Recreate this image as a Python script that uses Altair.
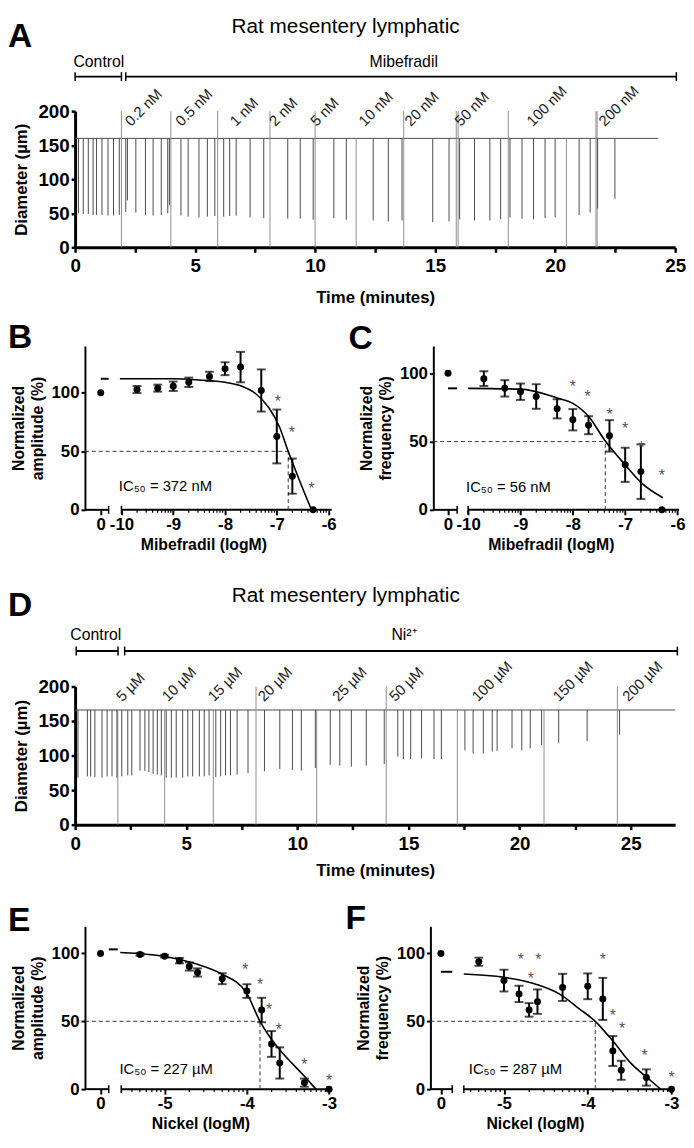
import altair as alt
import numpy as np
import pandas as pd

FONT = "Liberation Sans"
TRACE_COLOR = "#4a4a4a"
MARKER_COLOR = "#8c8c8c"

# ======================= DATA =======================
# ---- Panel A : diameter trace, mibefradil ----
a_title = "Rat mesentery lymphatic"
a_spike_time = [0.14, 0.34, 0.55, 0.75, 0.89, 1.12, 1.37, 1.60, 1.84,
                2.11, 2.18, 2.53, 2.93, 3.25, 3.59, 3.86, 3.93,
                4.41, 4.71, 5.16, 5.51, 5.82,
                6.19, 6.44, 6.71, 7.29, 7.86,
                8.86, 9.38, 9.92,
                10.78, 11.30,
                12.42, 13.05, 13.62,
                14.90, 15.58, 16.02, 16.64, 17.28, 17.73,
                18.12, 18.62, 19.10, 19.58, 20.00, 21.00, 21.46, 21.77, 22.49]
a_spike_min = [50, 49, 49, 47.6, 47.6, 47.6, 46.7, 46.7, 47.6,
               52, 69, 51, 47.6, 46.7, 47.6, 50, 62,
               46.7, 45, 44, 45, 46,
               45, 46, 46.7, 44, 43,
               42, 42, 40.5,
               43, 40.5,
               39.5, 38, 39.5,
               37, 38, 41, 39.5, 39.5, 41,
               44, 42, 41, 43, 44, 47.6, 51, 57, 71.4]
a_baseline = 160
a_trace_end = 24.3
a_marker_full = [1.93, 3.99, 5.94, 8.12, 10.0, 13.69, 15.88, 15.96, 18.05, 21.70, 21.75]
a_marker_low = [11.71, 20.47]
a_conc_labels = ["0.2 nM", "0.5 nM", "1 nM", "2 nM", "5 nM", "10 nM", "20 nM",
                 "50 nM", "100 nM", "200 nM"]
a_conc_start = [2.33, 4.43, 6.70, 8.34, 10.06, 12.07, 13.98, 16.07, 19.07, 22.07]
a_control_span = [0.0, 1.93]
a_drug_span = [2.11, 25.05]
a_drug = "Mibefradil"

# ---- Panel D : diameter trace, Ni2+ ----
d_spike_time = [0.13, 0.55, 0.70, 0.89, 1.21, 1.44, 1.66, 1.88, 2.10, 2.37,
                2.55, 2.92, 3.14, 3.32, 3.51, 3.70, 3.88, 4.10, 4.33, 4.55,
                4.84, 5.07, 5.29, 5.59, 5.81, 6.03, 6.33, 6.55, 6.77, 6.99,
                7.29, 7.78, 8.52, 9.21, 9.78, 10.18, 10.81, 11.48, 11.91, 12.43,
                13.10, 13.91, 14.52, 14.77, 15.10, 15.59, 16.15, 16.48, 17.54, 17.91,
                18.37, 18.77, 18.99, 19.66, 20.10, 20.48, 20.99, 21.76, 23.04, 24.50]
d_spike_min = [68, 69.9, 69.9, 69, 68, 69.9, 69.9, 68, 69.9, 71.3,
               71.3, 78.3, 77.4, 76, 73.6, 72.6, 71.3, 68, 68, 68,
               68, 69.9, 69.9, 69.9, 69.9, 71.3, 69, 69.9, 71.3, 71.3,
               72.6, 74.5, 77.4, 80.7, 79.3, 78.3, 82.1, 86.8, 85.4, 84,
               85.4, 87.8, 98.6, 95, 95, 95.9, 95, 95, 107.6, 103,
               103, 105.9, 106.8, 110.5, 107.6, 110.5, 115.2, 118.5, 121, 130.3]
d_baseline = 166
d_trace_end = 27.0
d_marker_full = [8.14, 14.0, 24.4]
d_marker_low = [1.92, 4.03, 6.22, 10.87, 17.2, 21.1]
d_conc_labels = ["5 µM", "10 µM", "15 µM", "20 µM", "25 µM", "50 µM", "100 µM",
                 "150 µM", "200 µM"]
d_conc_start = [2.12, 4.18, 6.25, 8.50, 11.85, 14.40, 18.13, 21.77, 24.90]
d_control_span = [0.05, 1.93]
d_drug_span = [2.23, 27.1]
d_drug = "Ni²⁺"

# ---- Panel B : normalized amplitude, mibefradil ----
b_logm = [-9.70, -9.30, -9.00, -8.70, -8.30, -8.00, -7.70, -7.30, -7.00, -6.70, -6.30]
b_mean = [102.8, 104.0, 105.6, 109.0, 114.0, 120.6, 122.0, 102.0, 62.7, 28.8, 0.0]
b_sem = [3, 3, 4, 4, 4, 5.5, 13, 18, 23, 15, 0]
b_control = 100
b_fit_top = 112
b_fit_logm = [-10.03, -9.0, -8.5, -8.0, -7.7, -7.4, -7.15, -6.95, -6.78, -6.57, -6.33]
b_fit_val = [112, 112, 111, 109, 106, 99, 87, 71, 50, 26, 0]
b_star_logm = [-6.98, -6.71, -6.33]
b_star_val = [96.6, 69.8, 21.7]
b_ic50_logm = -6.78
b_ic50_label = "IC₅₀ = 372 nM"

# ---- Panel C : normalized frequency, mibefradil ----
c_logm = [-9.70, -9.30, -9.00, -8.70, -8.30, -8.00, -7.70, -7.30, -7.00, -6.70, -6.30]
c_mean = [96.1, 89.0, 86.5, 83.0, 74.0, 66.0, 62.0, 54.2, 33.0, 28.0, 0.0]
c_sem = [5.4, 6, 6, 9, 7, 7.8, 6.6, 11.5, 12.5, 20, 0]
c_control = 100
c_fit_top = 89
c_fit_logm = [-10.0, -9.0, -8.3, -8.0, -7.69, -7.38, -7.0, -6.69, -6.28]
c_fit_val = [89, 88.4, 82, 78, 68, 50.4, 33, 19.8, 8.9]
c_star_logm = [-8.0, -7.72, -7.30, -7.0, -6.69, -6.30]
c_star_val = [93.3, 86.5, 72.8, 63, 48.7, 28.2]
c_ic50_logm = -7.38
c_ic50_label = "IC₅₀ = 56 nM"

# ---- Panel E : normalized amplitude, nickel ----
e_logm = [-5.30, -5.00, -4.82, -4.70, -4.60, -4.30, -4.00, -3.82, -3.70, -3.60, -3.30, -3.00]
e_mean = [99.3, 98.0, 94.7, 90.4, 86.0, 81.4, 72.3, 58.3, 33.3, 19.3, 4.8, 0.0]
e_sem = [1, 1, 2, 3, 3, 4, 5, 9, 9.5, 11.5, 3, 0]
e_control = 100
e_fit_top = 103
e_fit_logm = [-5.54, -5.0, -4.6, -4.31, -4.01, -3.84, -3.71, -3.60, -3.30, -3.16]
e_fit_val = [100.7, 97.8, 92, 85, 71.5, 50, 37.5, 29, 9.5, 0]
e_star_logm = [-4.02, -3.84, -3.73, -3.61, -3.30, -3.00]
e_star_val = [91.6, 80.7, 62, 47, 21.7, 9.6]
e_ic50_logm = -3.84
e_ic50_label = "IC₅₀ = 227 µM"

# ---- Panel F : normalized frequency, nickel ----
f_logm = [-5.30, -5.00, -4.82, -4.70, -4.60, -4.30, -4.00, -3.82, -3.70, -3.60, -3.30, -3.00]
f_mean = [93.9, 80.0, 70.2, 58.4, 64.5, 75.0, 75.8, 66.5, 28.1, 13.9, 8.6, 0.0]
f_sem = [3, 8, 6, 5, 9, 10, 9.5, 15.5, 11, 7, 6, 0]
f_control = 100
f_fit_top = 86.5
f_fit_logm = [-5.48, -5.0, -4.6, -4.34, -4.1, -3.91, -3.69, -3.48, -3.30, -3.13]
f_fit_val = [84.8, 82.4, 77, 70.2, 59.2, 50, 34.7, 18.8, 9, 0]
f_star_logm = [-4.80, -4.59, -4.68, -3.82, -3.70, -3.59, -3.32, -3.00]
f_star_val = [98.8, 98.8, 84.8, 98.8, 57.2, 48.2, 28.1, 11.5]
f_ic50_logm = -3.91
f_ic50_label = "IC₅₀ = 287 µM"


# ======================= HELPERS =======================
def spacer(y_px):
    return alt.Chart(pd.DataFrame({"k": [0]})).mark_rule(
        color="white", strokeOpacity=0, strokeWidth=1
    ).encode(x=alt.value(0), x2=alt.value(1), y=alt.value(y_px))


def letter_mark(letter, dx, dy):
    return alt.Chart(pd.DataFrame({"lab": [letter]})).mark_text(
        align="left", baseline="alphabetic", font=FONT, fontSize=34,
        fontWeight="bold", color="black"
    ).encode(x=alt.value(dx), y=alt.value(dy), text="lab:N")


def trace_panel(letter, title, drug, spike_t, spike_min, baseline, trace_end,
                mk_full, mk_low, conc_labels, conc_start, control_span, drug_span,
                xmax, width, height, title_t, control_t, drug_t,
                y_title, y_text, y_bracket, y_labels, letter_y, x_title_pad,
                spacer_top, spacer_bottom):
    xs = alt.Scale(domain=[0, xmax], nice=False, zero=False)
    ys = alt.Scale(domain=[0, 200], nice=False)
    ppu = height / 200.0
    tick_vals = [i * 2.5 for i in range(11)]
    xaxis = alt.Axis(values=tick_vals,
                     labelExpr="datum.value % 5 == 0 ? datum.label : ''",
                     domainWidth=3, domainColor="black", tickWidth=2.5,
                     tickColor="black", tickSize=5, labelFont=FONT, labelFontSize=19,
                     labelFontWeight="bold", labelColor="black", labelPadding=5,
                     labelFlush=False, labelOverlap=False, grid=False,
                     title="Time (minutes)", titleFont=FONT, titleFontSize=17,
                     titleFontWeight="bold", titleColor="black",
                     titlePadding=x_title_pad)
    yaxis = alt.Axis(values=[0, 50, 100, 150, 200], domainWidth=3, domainColor="black",
                     tickWidth=2.5, tickColor="black", tickSize=4, labelFont=FONT,
                     labelFontSize=19, labelFontWeight="bold", labelColor="black",
                     labelPadding=2, labelFlush=False, grid=False,
                     title="Diameter (µm)", titleFont=FONT, titleFontSize=17,
                     titleFontWeight="bold", titleColor="black", titlePadding=8)
    X = lambda f: alt.X(f, scale=xs, axis=xaxis)
    Y = lambda f: alt.Y(f, scale=ys, axis=yaxis)

    base = alt.Chart(pd.DataFrame({"t0": [0.0], "t1": [trace_end], "d": [baseline]})
                     ).mark_rule(color=TRACE_COLOR, strokeWidth=1).encode(
        x=X("t0:Q"), x2="t1:Q", y=Y("d:Q"))

    spikes = alt.Chart(pd.DataFrame({"t": spike_t, "lo": spike_min,
                                     "d": [baseline] * len(spike_t)})
                       ).mark_rule(color=TRACE_COLOR, strokeWidth=1).encode(
        x=X("t:Q"), y=Y("d:Q"), y2="lo:Q")

    full = alt.Chart(pd.DataFrame({"t": mk_full, "y0": [0] * len(mk_full),
                                   "y1": [200] * len(mk_full)})
                     ).mark_rule(color=MARKER_COLOR, strokeWidth=1).encode(
        x=X("t:Q"), y=Y("y0:Q"), y2="y1:Q")

    low = alt.Chart(pd.DataFrame({"t": mk_low, "y0": [0] * len(mk_low),
                                  "y1": [baseline] * len(mk_low)})
                    ).mark_rule(color=MARKER_COLOR, strokeWidth=1).encode(
        x=X("t:Q"), y=Y("y0:Q"), y2="y1:Q")

    conc = alt.Chart(pd.DataFrame({"t": conc_start, "lab": conc_labels,
                                   "y": [y_labels] * len(conc_start)})
                     ).mark_text(angle=315, align="left", baseline="alphabetic",
                                 font=FONT, fontSize=15, color="#222222").encode(
        x=X("t:Q"), y=Y("y:Q"), text="lab:N")

    br = pd.DataFrame({"x0": [control_span[0], drug_span[0]],
                       "x1": [control_span[1], drug_span[1]],
                       "y": [y_bracket, y_bracket]})
    brackets = alt.Chart(br).mark_rule(color="black", strokeWidth=2).encode(
        x=X("x0:Q"), x2="x1:Q", y=Y("y:Q"))
    cap_h = 4.5 / ppu
    ends = control_span + drug_span
    caps = alt.Chart(pd.DataFrame({"x": ends, "ya": [y_bracket - cap_h] * 4,
                                   "yb": [y_bracket + cap_h] * 4})
                     ).mark_rule(color="black", strokeWidth=1.5).encode(
        x=X("x:Q"), y=Y("ya:Q"), y2="yb:Q")

    btxt = alt.Chart(pd.DataFrame({"x": [control_t, drug_t], "lab": ["Control", drug],
                                   "y": [y_text, y_text]})
                     ).mark_text(font=FONT, fontSize=16, baseline="middle",
                                 color="black").encode(
        x=X("x:Q"), y=Y("y:Q"), text="lab:N")

    ttl = alt.Chart(pd.DataFrame({"x": [title_t], "y": [y_title], "lab": [title]})
                    ).mark_text(font=FONT, fontSize=21, baseline="middle",
                                color="black").encode(
        x=X("x:Q"), y=Y("y:Q"), text="lab:N")

    return alt.layer(base, full, low, spikes, conc, brackets, caps, btxt, ttl,
                     letter_mark(letter, -68, letter_y),
                     spacer(spacer_top), spacer(spacer_bottom)
                     ).properties(width=width, height=height)


def dose_panel(letter, letter_dx, letter_dy, logm, mean, sem, control, fit_top,
               fit_logm, fit_val, star_logm, star_val, ic50_logm, ic50_label,
               ic50_pos, xmin, xmax, width, height, ymax, yaxis_x, cat0, seg1_end,
               seg2_start, majors, minors, dash_span, label_cut, xtitle, xtitle_x,
               ytitle, spacers):
    xs = alt.Scale(domain=[xmin, xmax], nice=False, zero=False)
    ys = alt.Scale(domain=[0, ymax], nice=False)
    ppx = width / (xmax - xmin)
    y_off = -(yaxis_x - xmin) * ppx

    xaxis = alt.Axis(values=[cat0] + majors, domain=False,
                     labelExpr="datum.value < %s ? '0' : '-' + abs(datum.value)" % label_cut,
                     tickWidth=2, tickColor="black", tickSize=5, labelFont=FONT,
                     labelFontSize=17, labelFontWeight="bold", labelColor="black",
                     labelPadding=2, labelFlush=False, labelOverlap=False, grid=False,
                     title=xtitle, titleFont=FONT, titleFontSize=16,
                     titleFontWeight="bold", titleColor="black", titlePadding=4,
                     titleX=xtitle_x)
    yaxis = alt.Axis(values=[0, 50, 100], offset=y_off, domainWidth=2,
                     domainColor="black", tickWidth=2, tickColor="black", tickSize=4,
                     labelFont=FONT, labelFontSize=17, labelFontWeight="bold",
                     labelColor="black", labelPadding=2, labelFlush=False, grid=False,
                     title=ytitle, titleFont=FONT, titleFontSize=16,
                     titleFontWeight="bold", titleColor="black", titlePadding=6,
                     titleLineHeight=19)
    X = lambda f: alt.X(f, scale=xs, axis=xaxis)
    Y = lambda f: alt.Y(f, scale=ys, axis=yaxis)

    df = pd.DataFrame({"x": logm, "y": mean,
                       "lo": [m - s for m, s in zip(mean, sem)],
                       "hi": [m + s for m, s in zip(mean, sem)], "s": sem})

    pts = alt.Chart(df).mark_circle(size=50, color="black", opacity=1).encode(
        x=X("x:Q"), y=Y("y:Q"))
    err_df = df[df["s"] > 0]
    err = alt.Chart(err_df).mark_rule(color="black", strokeWidth=2).encode(
        x=X("x:Q"), y=Y("lo:Q"), y2="hi:Q")
    cap_lo = alt.Chart(err_df).mark_tick(orient="horizontal", size=9, thickness=2,
                                          color="black").encode(x=X("x:Q"), y=Y("lo:Q"))
    cap_hi = alt.Chart(err_df).mark_tick(orient="horizontal", size=9, thickness=2,
                                          color="black").encode(x=X("x:Q"), y=Y("hi:Q"))
    ctrl = alt.Chart(pd.DataFrame({"x": [cat0], "y": [control]})).mark_circle(
        size=50, color="black", opacity=1).encode(x=X("x:Q"), y=Y("y:Q"))
    dash = alt.Chart(pd.DataFrame({"x0": [dash_span[0]], "x1": [dash_span[1]],
                                   "y": [fit_top]})).mark_rule(
        color="black", strokeWidth=2).encode(x=X("x0:Q"), x2="x1:Q", y=Y("y:Q"))
    fit = alt.Chart(pd.DataFrame({"x": fit_logm, "y": fit_val})).mark_line(
        color="black", strokeWidth=1.6, interpolate="monotone").encode(
        x=X("x:Q"), y=Y("y:Q"))
    hdash = alt.Chart(pd.DataFrame({"x0": [yaxis_x], "x1": [ic50_logm], "y": [50]})
                      ).mark_rule(color="#333333", strokeWidth=1, strokeDash=[4, 3]
                                  ).encode(x=X("x0:Q"), x2="x1:Q", y=Y("y:Q"))
    vdash = alt.Chart(pd.DataFrame({"x": [ic50_logm], "y0": [0], "y1": [50]})
                      ).mark_rule(color="#333333", strokeWidth=1, strokeDash=[4, 3]
                                  ).encode(x=X("x:Q"), y=Y("y0:Q"), y2="y1:Q")
    stars = alt.Chart(pd.DataFrame({"x": star_logm, "y": star_val})).mark_text(
        text="*", font=FONT, fontSize=16, color="#555555", baseline="middle", dy=5
    ).encode(x=X("x:Q"), y=Y("y:Q"))
    ic = alt.Chart(pd.DataFrame({"x": [ic50_pos[0]], "y": [ic50_pos[1]],
                                 "lab": [ic50_label]})).mark_text(
        font=FONT, fontSize=15, align="left", baseline="middle", color="black"
    ).encode(x=X("x:Q"), y=Y("y:Q"), text="lab:N")

    segs = alt.Chart(pd.DataFrame({"x0": [yaxis_x, seg2_start], "x1": [seg1_end, xmax],
                                   "z": [0, 0]})).mark_rule(
        color="black", strokeWidth=2).encode(x=X("x0:Q"), x2="x1:Q", y=Y("z:Q"))
    brk = alt.Chart(pd.DataFrame({"x": [seg1_end, seg2_start]})).mark_rule(
        color="black", strokeWidth=1.5).encode(
        x=X("x:Q"), y=alt.value(height - 4), y2=alt.value(height + 4))
    minor = alt.Chart(pd.DataFrame({"x": minors})).mark_rule(
        color="black", strokeWidth=1.2).encode(
        x=X("x:Q"), y=alt.value(height), y2=alt.value(height + 3))

    layers = [pts, segs, brk, minor, hdash, vdash, fit, err, cap_lo, cap_hi, ctrl,
              dash, stars, ic, letter_mark(letter, letter_dx, letter_dy)]
    layers += [spacer(s) for s in spacers]
    return alt.layer(*layers).properties(width=width, height=height)


def minor_ticks(decades, start):
    out = []
    for d in decades:
        for k in range(2, 10):
            v = d + np.log10(k)
            if v >= start:
                out.append(round(float(v), 4))
    return out


# ======================= PANELS =======================
A = trace_panel("A", a_title, a_drug, a_spike_time, a_spike_min, a_baseline,
                a_trace_end, a_marker_full, a_marker_low, a_conc_labels, a_conc_start,
                a_control_span, a_drug_span, xmax=25, width=608, height=138,
                title_t=11.27, control_t=0.99, drug_t=13.69,
                y_title=323.9, y_text=272.5, y_bracket=250.7, y_labels=176.8,
                letter_y=-65, x_title_pad=14, spacer_top=-96, spacer_bottom=202)

D = trace_panel("D", a_title, d_drug, d_spike_time, d_spike_min, d_baseline,
                d_trace_end, d_marker_full, d_marker_low, d_conc_labels, d_conc_start,
                d_control_span, d_drug_span, xmax=27, width=608, height=140,
                title_t=12.18, control_t=0.93, drug_t=14.8,
                y_title=331.4, y_text=274.3, y_bracket=251.4, y_labels=177.1,
                letter_y=-71, x_title_pad=10, spacer_top=-117, spacer_bottom=216)

mib_minors = minor_ticks([-10, -9, -8, -7], -10.0)
ni_minors_e = minor_ticks([-6, -5, -4], -5.528)
ni_minors_f = minor_ticks([-6, -5, -4], -5.479)

B = dose_panel("B", -68, 2, b_logm, b_mean, b_sem, b_control, b_fit_top,
               b_fit_logm, b_fit_val, b_star_logm, b_star_val, b_ic50_logm,
               b_ic50_label, (-10.05, 20), xmin=-10.895, xmax=-5.94, width=260,
               height=166, ymax=140, yaxis_x=-10.705, cat0=-10.40, seg1_end=-10.248,
               seg2_start=-10.0, majors=[-10, -9, -8, -7, -6], minors=mib_minors,
               dash_span=(-10.40, -10.248), label_cut=-10.2,
               xtitle="Mibefradil (logM)", xtitle_x=130,
               ytitle=["Normalized", "amplitude (%)"], spacers=[-36, 228])

C = dose_panel("C", -76, 3, c_logm, c_mean, c_sem, c_control, c_fit_top,
               c_fit_logm, c_fit_val, c_star_logm, c_star_val, c_ic50_logm,
               c_ic50_label, (-10.04, 17), xmin=-10.853, xmax=-5.97, width=259,
               height=166, ymax=120, yaxis_x=-10.665, cat0=-10.384, seg1_end=-10.21,
               seg2_start=-10.0, majors=[-10, -9, -8, -7, -6], minors=mib_minors,
               dash_span=(-10.384, -10.21), label_cut=-10.2,
               xtitle="Mibefradil (logM)", xtitle_x=129,
               ytitle=["Normalized", "frequency (%)"], spacers=[])

E = dose_panel("E", -68, 5, e_logm, e_mean, e_sem, e_control, e_fit_top,
               e_fit_logm, e_fit_val, e_star_logm, e_star_val, e_ic50_logm,
               e_ic50_label, (-5.55, 14.5), xmin=-6.089, xmax=-2.98, width=259,
               height=165, ymax=120, yaxis_x=-5.969, cat0=-5.78, seg1_end=-5.68,
               seg2_start=-5.528, majors=[-5, -4, -3], minors=ni_minors_e,
               dash_span=(-5.68, -5.57), label_cut=-5.5,
               xtitle="Nickel (logM)", xtitle_x=127,
               ytitle=["Normalized", "amplitude (%)"], spacers=[-27])

F = dose_panel("F", -76, 3, f_logm, f_mean, f_sem, f_control, f_fit_top,
               f_fit_logm, f_fit_val, f_star_logm, f_star_val, f_ic50_logm,
               f_ic50_label, (-5.42, 15), xmin=-5.996, xmax=-2.98, width=256,
               height=165, ymax=120, yaxis_x=-5.878, cat0=-5.753, seg1_end=-5.617,
               seg2_start=-5.479, majors=[-5, -4, -3], minors=ni_minors_f,
               dash_span=(-5.753, -5.617), label_cut=-5.5,
               xtitle="Nickel (logM)", xtitle_x=116,
               ytitle=["Normalized", "frequency (%)"], spacers=[])

chart = alt.vconcat(
    A,
    alt.hconcat(B, C, spacing=12),
    D,
    alt.hconcat(E, F, spacing=9),
    spacing=0,
).properties(padding=0).configure_view(strokeWidth=0)

chart.save("out.html", embed_options={"renderer": "svg", "actions": False})
